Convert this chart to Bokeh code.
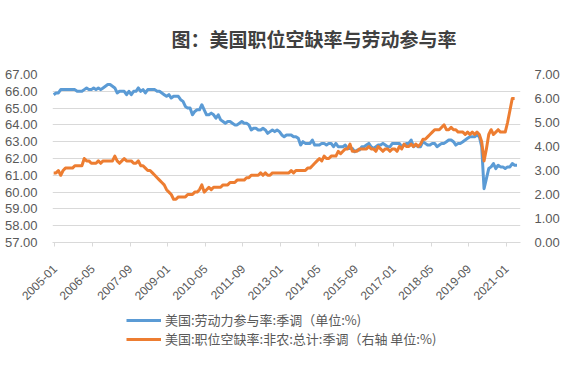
from bokeh.plotting import figure
from bokeh.layouts import column
from bokeh.models import (Range1d, LinearAxis, FixedTicker, Legend, LegendItem,
                          Label, NumeralTickFormatter)
from bokeh.embed import file_html
from bokeh.resources import INLINE

# ---- data -----------------------------------------------------------------
tick_labels = ["2005-01", "2006-05", "2007-09", "2009-01", "2010-05", "2011-09",
               "2013-01", "2014-05", "2015-09", "2017-01", "2018-05", "2019-09",
               "2021-01"]

# 美国:劳动力参与率:季调 (%), monthly from 2005-01
lfpr = [
    65.8, 65.9, 65.9, 66.1, 66.1, 66.1, 66.1, 66.1, 66.1, 66.1, 66.0, 66.0,
    66.0, 66.1, 66.2, 66.1, 66.1, 66.2, 66.1, 66.2, 66.1, 66.2, 66.3, 66.4,
    66.4, 66.3, 66.2, 65.9, 66.0, 66.0, 66.0, 65.8, 66.0, 65.8, 66.0, 66.0,
    66.2, 66.0, 66.1, 65.9, 66.1, 66.1, 66.1, 66.1, 66.0, 66.0, 65.9, 65.8,
    65.7, 65.8, 65.6, 65.7, 65.7, 65.7, 65.5, 65.4, 65.1, 65.0, 65.0, 64.6,
    64.8, 64.9, 64.9, 65.2, 64.9, 64.6, 64.6, 64.7, 64.6, 64.4, 64.6, 64.3,
    64.2, 64.1, 64.2, 64.2, 64.1, 64.0, 64.0, 64.1, 64.2, 64.1, 64.1, 64.0,
    63.7, 63.8, 63.8, 63.7, 63.7, 63.8, 63.7, 63.5, 63.6, 63.7, 63.6, 63.7,
    63.6, 63.4, 63.3, 63.4, 63.4, 63.4, 63.3, 63.3, 63.2, 62.8, 63.0, 62.9,
    62.9, 62.9, 63.1, 62.8, 62.8, 62.8, 62.9, 62.9, 62.8, 62.9, 62.9, 62.7,
    62.9, 62.7, 62.7, 62.7, 62.8, 62.6, 62.6, 62.6, 62.4, 62.5, 62.5, 62.7,
    62.7, 62.8, 62.9, 62.7, 62.6, 62.7, 62.8, 62.8, 62.9, 62.8, 62.7, 62.7,
    62.9, 62.9, 62.9, 62.9, 62.7, 62.8, 62.9, 62.9, 63.1, 62.7, 62.8, 62.7,
    62.7, 63.0, 62.9, 62.8, 62.8, 62.9, 62.9, 62.7, 62.8, 62.9, 62.9, 63.0,
    63.1, 63.1, 63.0, 62.8, 62.9, 62.9, 63.0, 63.1, 63.2, 63.3, 63.3, 63.3,
    63.4, 63.3, 62.7, 60.2, 60.8, 61.4, 61.5, 61.7, 61.4, 61.6, 61.5, 61.5,
    61.4, 61.5, 61.5, 61.7, 61.6, 61.6,
]

# 美国:职位空缺率:非农:总计:季调 (%), monthly from 2005-01 (right axis)
vacancy = [
    2.9, 2.9, 3.0, 2.8, 3.0, 3.1, 3.1, 3.1, 3.1, 3.2, 3.2, 3.2,
    3.2, 3.5, 3.4, 3.4, 3.3, 3.3, 3.3, 3.4, 3.3, 3.4, 3.4, 3.4,
    3.4, 3.4, 3.6, 3.4, 3.3, 3.4, 3.5, 3.4, 3.4, 3.4, 3.3, 3.3,
    3.4, 3.2, 3.2, 3.1, 3.0, 3.0, 2.9, 2.8, 2.7, 2.6, 2.5, 2.4,
    2.2, 2.1, 2.0, 1.8, 1.8, 1.9, 1.9, 1.9, 1.9, 2.0, 2.0, 2.0,
    2.1, 2.1, 2.2, 2.4, 2.1, 2.2, 2.3, 2.2, 2.3, 2.3, 2.3, 2.3,
    2.4, 2.4, 2.4, 2.5, 2.5, 2.5, 2.6, 2.6, 2.6, 2.6, 2.7, 2.7,
    2.8, 2.8, 2.8, 2.8, 2.9, 2.8, 2.9, 2.8, 2.8, 2.9, 2.9, 2.9,
    2.9, 2.9, 2.9, 2.9, 2.9, 3.0, 2.9, 3.0, 3.0, 3.0, 3.0, 3.0,
    3.1, 3.1, 3.2, 3.3, 3.4, 3.5, 3.4, 3.6, 3.5, 3.5, 3.6, 3.6,
    3.6, 3.8, 3.7, 3.8, 3.9, 3.9, 4.1, 3.8, 3.8, 3.8, 3.9, 3.9,
    3.9, 3.9, 4.0, 3.9, 3.9, 3.8, 4.0, 3.9, 3.8, 3.9, 3.9, 3.8,
    3.9, 3.9, 3.8, 4.0, 3.9, 4.1, 4.0, 4.0, 4.1, 4.0, 4.1, 4.0,
    4.1, 4.3, 4.3, 4.4, 4.5, 4.6, 4.7, 4.7, 4.7, 4.8, 4.9, 4.7,
    4.7, 4.8, 4.7, 4.7, 4.6, 4.6, 4.6, 4.5, 4.6, 4.5, 4.6, 4.5,
    4.6, 4.5, 4.2, 3.4, 3.9, 4.5, 4.7, 4.5, 4.6, 4.7, 4.6, 4.6,
    4.6, 5.0, 5.5, 6.0, 6.0,
]

left_ticks = [57, 58, 59, 60, 61, 62, 63, 64, 65, 66, 67]
right_ticks = [0, 1, 2, 3, 4, 5, 6, 7]
series_names = ["美国:劳动力参与率:季调（单位:%)",
                "美国:职位空缺率:非农:总计:季调（右轴 单位:%)"]

label_every = 16
n_categories = 199

# ---- styling --------------------------------------------------------------
FONT = "Liberation Sans"
CJK = "Noto Sans CJK SC"
GREY = "#595959"
BLUE = "#5B9BD5"
ORANGE = "#ED7D31"
GRID = "#D9D9D9"
LW = 3

x_lfpr = [i + 0.5 for i in range(len(lfpr))]
x_vac = [i + 0.5 for i in range(len(vacancy))]

# ---- main chart -----------------------------------------------------------
p = figure(width=578, height=310, output_backend="svg", toolbar_location=None,
           x_range=Range1d(0, n_categories), y_range=Range1d(57, 67),
           min_border_left=52, min_border_right=58, min_border_top=71,
           min_border_bottom=68)
p.outline_line_color = None
p.background_fill_color = "white"
p.border_fill_color = "white"

p.title.text = "图：美国职位空缺率与劳动参与率"
p.title.align = "left"
p.title.offset = 119
p.title.standoff = 45
p.title.text_font = CJK
p.title.text_font_size = "19px"
p.title.text_font_style = "bold"
p.title.text_color = "#404040"

p.extra_y_ranges = {"right": Range1d(0, 7)}

yax = p.yaxis[0]
yax.ticker = FixedTicker(ticks=left_ticks)
yax.formatter = NumeralTickFormatter(format="0.00")
yax.axis_line_color = None
yax.major_tick_line_color = None
yax.minor_tick_line_color = None
yax.major_label_standoff = 9
yax.major_label_text_font = FONT
yax.major_label_text_font_size = "13px"
yax.major_label_text_color = GREY

rax = LinearAxis(y_range_name="right", ticker=FixedTicker(ticks=right_ticks),
                 formatter=NumeralTickFormatter(format="0.00"))
rax.axis_line_color = None
rax.major_tick_line_color = None
rax.minor_tick_line_color = None
rax.major_label_standoff = 8
rax.major_label_text_font = FONT
rax.major_label_text_font_size = "13px"
rax.major_label_text_color = GREY
p.add_layout(rax, "right")

tick_pos = [i * label_every + 1 for i in range(len(tick_labels))]
xax = p.xaxis[0]
xax.ticker = FixedTicker(ticks=tick_pos)
xax.major_label_overrides = {t: lab for t, lab in zip(tick_pos, tick_labels)}
xax.major_label_orientation = 0.7854
xax.axis_line_color = GRID
xax.major_tick_line_color = GRID
xax.major_tick_in = 0
xax.major_tick_out = 4
xax.minor_tick_line_color = None
xax.major_label_standoff = 20
xax.major_label_text_font = FONT
xax.major_label_text_font_size = "12px"
xax.major_label_text_color = GREY

p.xgrid.grid_line_color = None
p.ygrid.grid_line_color = GRID
p.ygrid.ticker = FixedTicker(ticks=left_ticks)

p.line(x_lfpr, lfpr, line_color=BLUE, line_width=LW, line_join="round")
p.line(x_vac, vacancy, line_color=ORANGE, line_width=LW, line_join="round",
       y_range_name="right")

# ---- legend strip (same series, view range kept empty) --------------------
q = figure(width=578, height=61, output_backend="svg", toolbar_location=None,
           x_range=Range1d(0, 1), y_range=Range1d(-2, -1),
           x_axis_location=None, y_axis_location=None,
           min_border=0, min_border_left=0, min_border_right=0,
           min_border_top=0, min_border_bottom=0)
q.grid.visible = False
q.outline_line_color = None
q.background_fill_color = "white"
q.border_fill_color = "white"
k1 = q.line(x_lfpr, lfpr, line_color=BLUE, line_width=LW)
k2 = q.line(x_vac, vacancy, line_color=ORANGE, line_width=LW)

legend = Legend(items=[
    LegendItem(label=series_names[0], renderers=[k1]),
    LegendItem(label=series_names[1], renderers=[k2]),
], location=(74, 23))
legend.background_fill_alpha = 0
legend.border_line_color = None
legend.padding = 0
legend.margin = 0
legend.spacing = 0
legend.glyph_width = 35
legend.glyph_height = 12
legend.label_height = 12
legend.label_standoff = 4
legend.label_text_font = CJK
legend.label_text_font_size = "13px"
legend.label_text_color = GREY
q.add_layout(legend, "center")

q.add_layout(Label(x=515, y=19, x_units="screen", y_units="screen", text="↵",
                   text_align="center", text_baseline="middle",
                   text_font=CJK, text_font_size="11px", text_color="#808080"))

layout = column(p, q, spacing=0)
open("out.html", "w").write(file_html(layout, INLINE))
